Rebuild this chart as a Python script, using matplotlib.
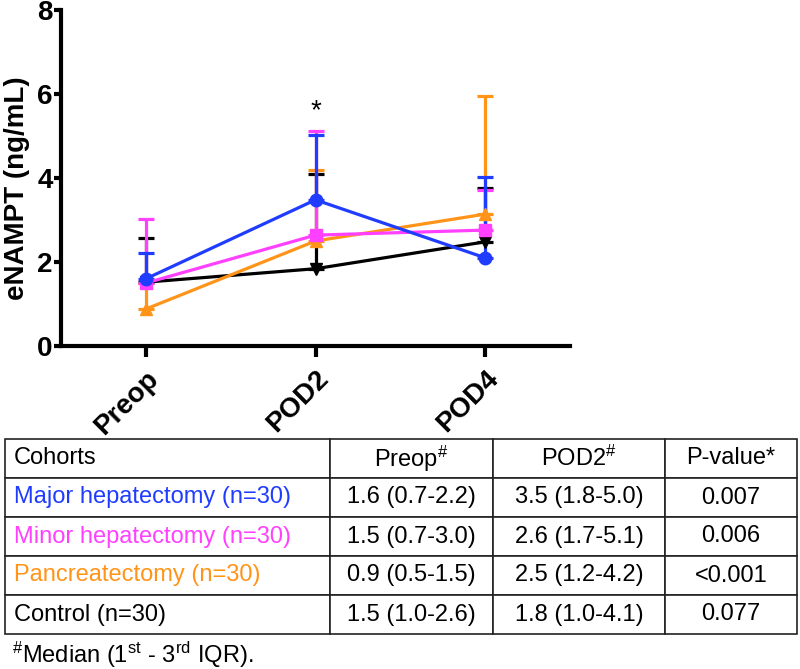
import matplotlib
matplotlib.use("Agg")
import matplotlib.pyplot as plt

plt.rcParams["font.family"] = ["Liberation Sans", "DejaVu Sans"]
plt.rcParams["mathtext.fontset"] = "custom"
plt.rcParams["mathtext.rm"] = "Liberation Sans"
plt.rcParams["mathtext.it"] = "Liberation Sans"
plt.rcParams["mathtext.bf"] = "Liberation Sans:bold"

# data
timepoints = ["Preop", "POD2", "POD4"]
major = [1.6, 3.48, 2.1]
major_hi = [2.22, 5.02, 4.03]
minor = [1.5, 2.64, 2.76]
minor_hi = [3.02, 5.13, 3.72]
pancreas = [0.88, 2.5, 3.14]
pancreas_hi = [1.5, 4.18, 5.96]
control = [1.52, 1.84, 2.48]
control_hi = [2.57, 4.1, 3.76]

# table contents
col_labels = ["Cohorts", "Preop$^{\\#}$", "POD2$^{\\#}$", "P-value*"]
cohorts = ["Major hepatectomy (n=30)", "Minor hepatectomy (n=30)",
           "Pancreatectomy (n=30)", "Control (n=30)"]
preop_txt = ["1.6 (0.7-2.2)", "1.5 (0.7-3.0)", "0.9 (0.5-1.5)", "1.5 (1.0-2.6)"]
pod2_txt = ["3.5 (1.8-5.0)", "2.6 (1.7-5.1)", "2.5 (1.2-4.2)", "1.8 (1.0-4.1)"]
pvals = ["0.007", "0.006", "<0.001", "0.077"]

BLUE = "#1f3cff"
PINK = "#ff40ff"
ORANGE = "#ff9419"
BLACK = "#000000"

W, H = 800, 669
fig = plt.figure(figsize=(W / 100, H / 100), dpi=100)

ax = fig.add_axes([61 / W, 1 - 346 / H, 509 / W, 336 / H])
x = list(range(len(timepoints)))

series = [
    (control, control_hi, BLACK, "v", 9),
    (pancreas, pancreas_hi, ORANGE, "^", 9),
    (minor, minor_hi, PINK, "s", 8),
    (major, major_hi, BLUE, "o", 9),
]
for vals, hi, col, mk, ms in series:
    up = [h - v for h, v in zip(hi, vals)]
    lo = [0] * len(vals)
    ax.errorbar(x, vals, yerr=[lo, up], color=col, marker=mk, markersize=ms,
                linewidth=2.3, elinewidth=2.3, capsize=5.5, capthick=2.3)

ax.text(1, 5.6, "*", ha="center", va="center", fontsize=20)

ax.set_xlim(-0.5, 2.5)
ax.set_ylim(0, 8)
ax.set_yticks([0, 2, 4, 6, 8])
ax.set_xticks(x)
ax.set_xticklabels(timepoints, rotation=45, ha="right", va="top",
                   rotation_mode="anchor", fontsize=20, fontweight="bold")
for lab in ax.get_yticklabels():
    lab.set_fontsize(20)
    lab.set_fontweight("bold")
ax.set_ylabel("eNAMPT (ng/mL)", fontsize=20, fontweight="bold")
ax.yaxis.set_label_coords(-0.06, 0.47)
for s in ["top", "right"]:
    ax.spines[s].set_visible(False)
for s in ["left", "bottom"]:
    ax.spines[s].set_linewidth(3)
ax.tick_params(axis="both", width=3, direction="out")
ax.tick_params(axis="x", length=8, pad=6)
ax.tick_params(axis="y", length=5, pad=1)

# table below the chart
tax = fig.add_axes([5 / W, 1 - 634 / H, 792 / W, 195 / H])
tax.axis("off")
cell_text = [[c, p, q, v] for c, p, q, v in zip(cohorts, preop_txt, pod2_txt, pvals)]
col_w = [325, 163, 172, 132]
tbl = tax.table(cellText=cell_text, colLabels=col_labels, cellLoc="center",
                colWidths=[w / sum(col_w) for w in col_w], bbox=[0, 0, 1, 1])
tbl.auto_set_font_size(False)
tbl.set_fontsize(17)
text_colors = [BLUE, PINK, ORANGE, BLACK]
for (r, c), cell in tbl.get_celld().items():
    cell.set_linewidth(1.2)
    cell.set_edgecolor("#222222")
    if c == 0:
        cell._loc = "left"
        cell.PAD = 9 / 325
        cell.get_text().set_horizontalalignment("left")
        if r > 0:
            cell.get_text().set_color(text_colors[r - 1])

fig.text(12 / W, 1 - 655 / H, "$^{\\#}$Median (1$^{\\rm st}$ - 3$^{\\rm rd}$ IQR).",
         fontsize=17, va="center", ha="left")

fig.savefig("out.png", dpi=100)
